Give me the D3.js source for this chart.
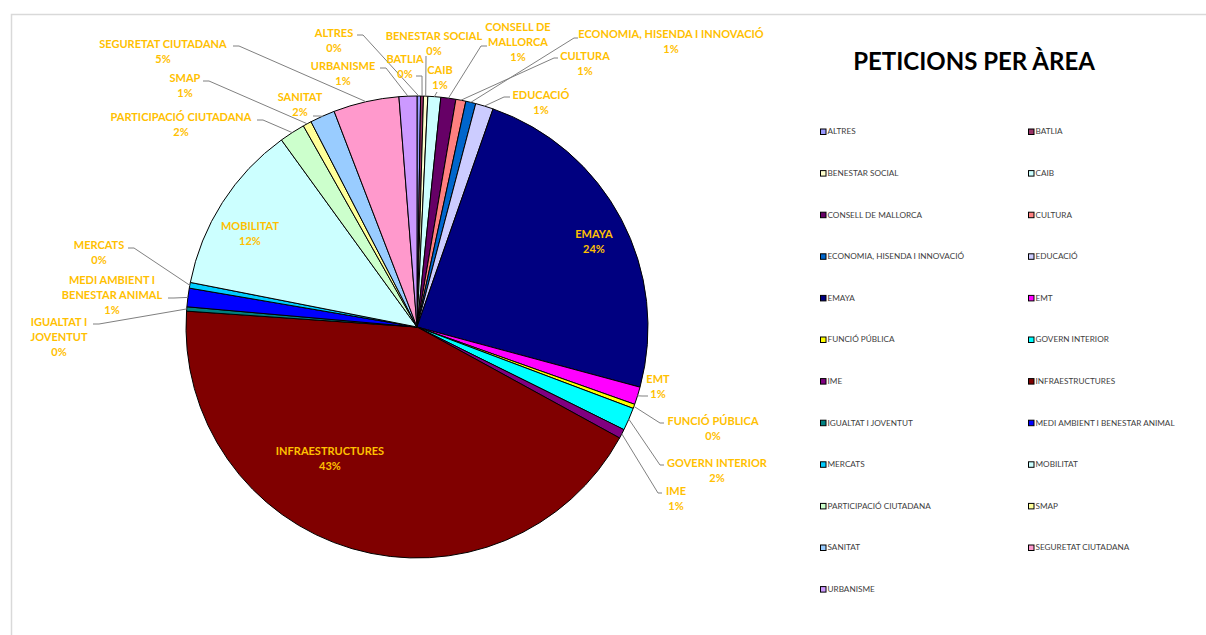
<!DOCTYPE html>
<html>
<head>
<meta charset="utf-8">
<script src="https://cdnjs.cloudflare.com/ajax/libs/d3/7.8.5/d3.min.js"></script>
<style>
  body { margin: 0; background: #fff; }
  svg { display: block; }
</style>
</head>
<body>
<div id="chart"></div>
<script>
// areas, same order as the excel sheet (pie starts at 12 o'clock)
var areas = ['ALTRES', 'BATLIA', 'BENESTAR SOCIAL', 'CAIB', 'CONSELL DE MALLORCA', 'CULTURA',
  'ECONOMIA, HISENDA I INNOVACIÓ', 'EDUCACIÓ', 'EMAYA', 'EMT', 'FUNCIÓ PÚBLICA', 'GOVERN INTERIOR',
  'IME', 'INFRAESTRUCTURES', 'IGUALTAT I JOVENTUT', 'MEDI AMBIENT I BENESTAR ANIMAL', 'MERCATS',
  'MOBILITAT', 'PARTICIPACIÓ CIUTADANA', 'SMAP', 'SANITAT', 'SEGURETAT CIUTADANA', 'URBANISME'];

// share of peticions
var peticions = [0.25, 0.2, 0.3, 0.9, 1.05, 0.7, 0.7, 1.25, 23.9, 1.24, 0.3, 1.6,
  0.65, 43.2, 0.3, 1.3, 0.4, 11.95, 1.8, 0.6, 1.75, 4.6, 1.25];

// excel 2003 palette
var colors = ['#9999FF', '#993366', '#FFFFCC', '#CCFFFF', '#660066', '#FF8080', '#0066CC', '#CCCCFF',
  '#000080', '#FF00FF', '#FFFF00', '#00FFFF', '#800080', '#800000', '#008080', '#0000FF', '#00CCFF',
  '#CCFFFF', '#CCFFCC', '#FFFF99', '#99CCFF', '#FF99CC', '#CC99FF'];

// how the label names wrap
var labelLines = {
  'CONSELL DE MALLORCA': ['CONSELL DE', 'MALLORCA'],
  'IGUALTAT I JOVENTUT': ['IGUALTAT I', 'JOVENTUT'],
  'MEDI AMBIENT I BENESTAR ANIMAL': ['MEDI AMBIENT I', 'BENESTAR ANIMAL']
};

// label placement: [x, y of first line, leader start x, leader start y, horizontal leg]
// null leader = label sits inside the slice
var labelPos = [
  [334, 33, 357, 35, 6],
  [405, 59, 416, 76, 6],
  [434, 36, 426, 56, 0],
  [440, 70, 437, 92, 0],
  [518, 27, 487, 46, 6],
  [585, 56, 558, 58, 4],
  [671, 34, 578, 38, 4],
  [541, 95, 510, 97, 6],
  [594, 234, null],
  [658, 379, 648, 396, 6],
  [713, 421, 664, 423, 4],
  [717, 463, 664, 465, 4],
  [676, 491, 662, 493, 4],
  [330, 451, null],
  [59, 322, 93, 324, 6],
  [112, 280, 168, 298, 6],
  [99, 245, 128, 248, 6],
  [250, 226, null],
  [181, 117, 257, 120, 6],
  [185, 78, 203, 81, 6],
  [300, 97, 313, 116, 6],
  [163, 44, 233, 46, 6],
  [343, 66, 380, 68, 6]
];

var width = 1206, height = 635;
var cx = 417, cy = 327, radius = 231;

var svg = d3.select('#chart').append('svg')
  .attr('width', width)
  .attr('height', height);

// chart area border (only top and left show)
svg.append('path')
  .attr('d', 'M11.5,' + height + 'V14.5H' + width)
  .attr('fill', 'none')
  .attr('stroke', '#d9d9d9')
  .attr('stroke-width', 1.5);

var data = areas.map(function(a, i) {
  return {area: a, value: peticions[i], color: colors[i], pos: labelPos[i]};
});
var total = d3.sum(peticions);
var pct = function(v) { return Math.round(v / total * 100) + '%'; };

var pie = d3.pie()
  .sort(null)
  .value(function(d) { return d.value; });

var arc = d3.arc().innerRadius(0).outerRadius(radius);
var edgeArc = d3.arc().innerRadius(radius).outerRadius(radius);

var g = svg.append('g').attr('transform', 'translate(' + cx + ',' + cy + ')');
var arcs = pie(data);

g.selectAll('path.slice')
  .data(arcs)
  .enter().append('path')
  .attr('class', 'slice')
  .attr('d', arc)
  .attr('fill', function(d) { return d.data.color; })
  .attr('stroke', '#000')
  .attr('stroke-width', 1);

// leader lines
svg.append('g').selectAll('path')
  .data(arcs.filter(function(d) { return d.data.pos[2] != null; }))
  .enter().append('path')
  .attr('fill', 'none')
  .attr('stroke', '#808080')
  .attr('stroke-width', 1)
  .attr('d', function(d) {
    var p = d.data.pos;
    var e = edgeArc.centroid(d);
    var ex = cx + e[0], ey = cy + e[1];
    var dir = ex > p[2] ? 1 : -1;
    return 'M' + p[2] + ',' + p[3] + 'h' + (dir * p[4]) + 'L' + ex + ',' + ey;
  });

// data labels
var labels = svg.append('g')
  .attr('font-family', 'Lato, "Open Sans", sans-serif')
  .attr('font-weight', 'bold')
  .attr('font-size', '11px')
  .attr('fill', '#FFC000')
  .attr('text-anchor', 'middle');

data.forEach(function(d) {
  var lines = (labelLines[d.area] || [d.area]).concat([pct(d.value)]);
  var t = labels.append('text')
    .attr('x', d.pos[0])
    .attr('y', d.pos[1])
    .attr('dy', '0.35em');
  lines.forEach(function(l, i) {
    t.append('tspan')
      .attr('x', d.pos[0])
      .attr('dy', i == 0 ? '0.35em' : 15)
      .text(l);
  });
});

// title
svg.append('text')
  .attr('x', 974)
  .attr('y', 70)
  .attr('text-anchor', 'middle')
  .attr('font-family', 'Lato, "Open Sans", sans-serif')
  .attr('font-weight', 'bold')
  .attr('font-size', '24px')
  .attr('fill', '#000')
  .text('PETICIONS PER ÀREA');

// legend, two columns
var legend = svg.append('g')
  .attr('font-family', 'Lato, "Open Sans", sans-serif')
  .attr('font-size', '8.2px')
  .attr('fill', '#404040');

var item = legend.selectAll('g')
  .data(data)
  .enter().append('g')
  .attr('transform', function(d, i) {
    return 'translate(' + (i % 2 == 0 ? 820 : 1028) + ',' + (131.5 + Math.floor(i / 2) * 41.6) + ')';
  });

item.append('rect')
  .attr('x', 0.5)
  .attr('y', -2.5)
  .attr('width', 5.5)
  .attr('height', 5.5)
  .attr('fill', function(d) { return d.color; })
  .attr('stroke', '#000')
  .attr('stroke-width', 1);

item.append('text')
  .attr('x', 7.5)
  .attr('dy', '0.35em')
  .text(function(d) { return d.area; });
</script>
</body>
</html>
